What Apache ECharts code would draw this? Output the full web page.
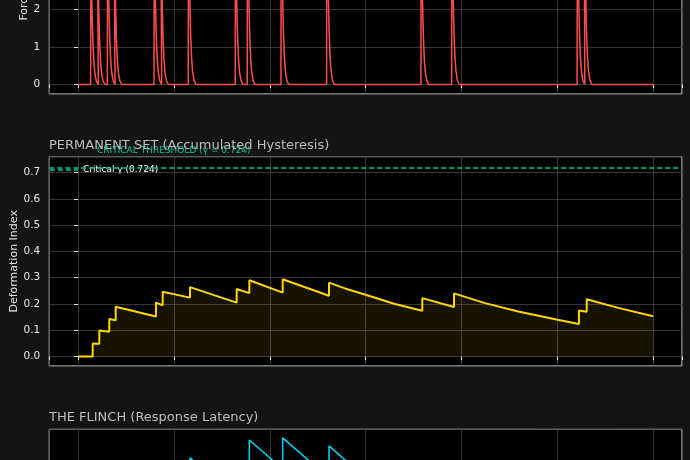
<!DOCTYPE html>
<html>
<head>
<meta charset="utf-8">
<script src="https://cdn.jsdelivr.net/npm/echarts@6.0.0/dist/echarts.min.js"></script>
<style>
html,body{margin:0;padding:0;background:#141414;}
#c{width:690px;height:460px;}
</style>
</head>
<body>
<div id="c"></div>
<script>
// ---- data ----
// force spikes (top panel): onset times and peak heights
const spikeTimes = [0.132, 0.201, 0.306, 0.375, 0.793, 0.862, 1.150, 1.640, 1.765, 2.117, 2.593, 3.577, 3.897, 5.206, 5.279];
const spikePeaks = [3.4, 3.7, 4.0, 4.2, 3.8, 4.1, 4.4, 4.1, 4.6, 4.8, 5.06, 4.3, 4.5, 4.4, 4.7];
// shape of one pulse: time offset after onset, fraction of its peak
const pulseOffsets = [0, 0.002, 0.015, 0.025, 0.035, 0.045, 0.06, 0.08];
const pulseFractions = [0, 1, 0.55, 0.3, 0.16, 0.08, 0.025, 0];
const timeStart = 0, timeEnd = 6;

// permanent set (accumulated hysteresis): [time, deformation index]
const permanentSet = [
  [0, 0], [0.153, 0], [0.153, 0.049], [0.222, 0.048], [0.222, 0.099], [0.326, 0.094],
  [0.326, 0.143], [0.393, 0.138], [0.393, 0.189], [0.813, 0.152], [0.813, 0.205],
  [0.883, 0.195], [0.883, 0.246], [1.168, 0.224], [1.168, 0.264], [1.655, 0.205],
  [1.655, 0.257], [1.787, 0.241], [1.787, 0.290], [2.135, 0.243], [2.135, 0.294],
  [2.618, 0.231], [2.618, 0.281], [2.785, 0.259], [3.0, 0.235], [3.306, 0.200],
  [3.591, 0.174], [3.591, 0.222], [3.922, 0.188], [3.922, 0.240], [4.245, 0.203],
  [4.592, 0.171], [5.003, 0.140], [5.225, 0.124], [5.225, 0.175], [5.306, 0.170],
  [5.306, 0.218], [5.635, 0.185], [6.0, 0.153]
];
const criticalGamma = 0.724;

// the flinch (response latency): [time, latency]
const flinch = [
  [0, 0.25], [0.153, 0.25], [0.153, 0.30], [0.222, 0.289], [0.222, 0.33], [0.326, 0.314],
  [0.326, 0.36], [0.393, 0.350], [0.393, 0.39], [0.813, 0.324], [0.813, 0.42],
  [0.883, 0.409], [0.883, 0.46], [1.168, 0.416], [1.168, 0.537], [1.655, 0.461],
  [1.655, 0.52], [1.787, 0.499], [1.787, 0.570], [2.135, 0.516], [2.135, 0.574],
  [2.618, 0.499], [2.618, 0.559], [3.591, 0.407], [3.591, 0.46], [3.922, 0.408],
  [3.922, 0.48], [5.225, 0.277], [5.225, 0.35], [5.306, 0.337], [5.306, 0.40],
  [6.0, 0.292]
];

const titles = ['PERMANENT SET (Accumulated Hysteresis)', 'THE FLINCH (Response Latency)'];
const yNames = ['Force (a.u.)', 'Deformation Index', 'Latency (s)'];
const thresholdText = 'CRITICAL THRESHOLD (γ = 0.724)';
const legendName = 'Critical γ (0.724)';

// ---- build force series from the spike table ----
const force = [[timeStart, 0]];
spikeTimes.forEach((t, i) => {
  pulseOffsets.forEach((o, k) => force.push([t + o, spikePeaks[i] * pulseFractions[k]]));
});
force.push([timeEnd, 0]);

// ---- chart ----
const FONT = 'DejaVu Sans';
const chart = echarts.init(document.getElementById('c'), null, {renderer: 'canvas'});
const gridBase = {left: 49.25, width: 632.75, height: 209.3, show: true,
  backgroundColor: '#000000', borderColor: '#e6e6e6', borderWidth: 1,
  containLabel: false, outerBoundsMode: 'none'};
const grids = [
  Object.assign({}, gridBase, {top: -115.3}),
  Object.assign({}, gridBase, {top: 156.7}),
  Object.assign({}, gridBase, {top: 429.3})
];
function xAx(i) {
  return {type: 'value', gridIndex: i, min: -0.3, max: 6.3, minInterval: 1, maxInterval: 1,
    axisLine: {show: false},
    axisTick: {show: true, length: 3.5, lineStyle: {color: '#e6e6e6', width: 1}},
    axisLabel: {show: i === 2, color: '#e6e6e6', fontFamily: FONT, fontSize: 10.5, showMinLabel: false, showMaxLabel: false},
    splitLine: {show: true, lineStyle: {color: '#444444', width: 0.8}}};
}
function yAx(i, min, max, step, dec, nameGap) {
  return {type: 'value', gridIndex: i, min: min, max: max, minInterval: step, maxInterval: step,
    name: yNames[i], nameLocation: 'middle', nameGap: nameGap, nameRotate: 90, nameMoveOverlap: false,
    nameTextStyle: {color: '#e6e6e6', fontFamily: FONT, fontSize: 11},
    axisLine: {show: false},
    axisTick: {show: true, length: 4, lineStyle: {color: '#e6e6e6', width: 1}},
    axisLabel: {color: '#e6e6e6', fontFamily: FONT, fontSize: 10.5, margin: 9,
      showMinLabel: false, showMaxLabel: false, formatter: v => v.toFixed(dec)},
    splitLine: {show: true, lineStyle: {color: '#444444', width: 0.8}}};
}
const option = {
  backgroundColor: '#141414',
  animation: false,
  textStyle: {fontFamily: FONT},
  title: [
    {text: titles[0], left: 49, top: 139.5, padding: 0,
      textStyle: {color: '#bdbdbd', fontFamily: FONT, fontSize: 13, fontWeight: 'normal'}},
    {text: titles[1], left: 49, top: 411.5, padding: 0,
      textStyle: {color: '#bdbdbd', fontFamily: FONT, fontSize: 13, fontWeight: 'normal'}}
  ],
  legend: {data: [{name: legendName,
      icon: 'path://M0,0h5v1.5h-5z M8,0h5v1.5h-5z M16,0h5v1.5h-5z M24,0h4v1.5h-4z'}],
    left: 50, top: 165.5, padding: 0, itemWidth: 28, itemHeight: 1.5, itemGap: 5,
    itemStyle: {color: '#00c896'},
    textStyle: {color: '#ffffff', fontFamily: FONT, fontSize: 9}, selectedMode: false},
  grid: grids,
  xAxis: [xAx(0), xAx(1), xAx(2)],
  yAxis: [
    yAx(0, -0.253, 5.313, 1, 0, 20),
    yAx(1, -0.0362, 0.7602, 0.1, 1, 29.5),
    yAx(2, 0.2, 0.59, 0.1, 1, 29.5)
  ],
  series: [
    {name: 'Force', type: 'line', xAxisIndex: 0, yAxisIndex: 0, data: force, showSymbol: false,
      symbol: 'none', lineStyle: {color: '#ff4d4d', width: 1.5}, itemStyle: {color: '#ff4d4d'}},
    {name: 'Permanent Set', type: 'line', xAxisIndex: 1, yAxisIndex: 1, data: permanentSet,
      symbol: 'none', lineStyle: {color: '#ffd700', width: 2}, itemStyle: {color: '#ffd700'},
      areaStyle: {color: 'rgba(255,215,0,0.12)'}},
    {name: legendName, type: 'line', xAxisIndex: 1, yAxisIndex: 1, data: [], symbol: 'none',
      lineStyle: {color: '#00c896', width: 1.5, type: [5, 3]}, itemStyle: {color: '#00c896'},
      markLine: {silent: true, symbol: 'none', label: {show: false},
        lineStyle: {color: '#00c896', width: 1.5, type: [5, 3]}, data: [{yAxis: criticalGamma}]}},
    {name: 'Flinch', type: 'line', xAxisIndex: 2, yAxisIndex: 2, data: flinch, symbol: 'none',
      lineStyle: {color: '#00d4ff', width: 1.5}, itemStyle: {color: '#00d4ff'}}
  ]
};
chart.setOption(option);
const tp = chart.convertToPixel({xAxisIndex: 1, yAxisIndex: 1}, [0.198, criticalGamma + 0.06]);
chart.setOption({graphic: [{type: 'text', x: tp[0], y: tp[1], silent: true,
  style: {text: thresholdText, fill: '#00c896', font: '9px "DejaVu Sans"', textVerticalAlign: 'middle', textAlign: 'left'}}]});
</script>
</body>
</html>
